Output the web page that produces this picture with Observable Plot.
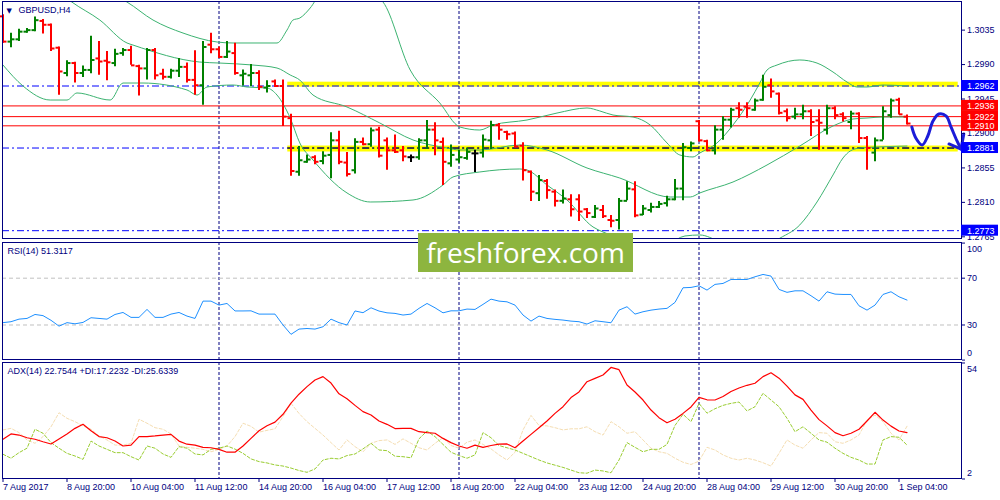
<!DOCTYPE html>
<html><head><meta charset="utf-8">
<script src="https://cdn.jsdelivr.net/npm/d3@7"></script>
<script src="https://cdn.jsdelivr.net/npm/@observablehq/plot@0.6"></script>
<style>
html,body{margin:0;padding:0;background:#fff;width:1000px;height:500px;overflow:hidden}
#wrap{position:relative;width:1000px;height:500px}
#logo{position:absolute;left:418px;top:233px;width:215px;height:39px;background:#8db53f;color:#fff;font-family:"Open Sans",sans-serif;font-size:28px;line-height:38px;text-align:center;white-space:nowrap}
</style></head><body><div id="wrap"></div>
<script>
// ---------- data ----------
const open = [1.3053,1.3020,1.3023,1.3033,1.3035,1.3047,1.3042,1.3012,1.2979,1.2992,
1.2979,1.2983,1.2998,1.2995,1.2992,1.3005,1.3009,1.2988,1.2985,1.3009,
1.2978,1.2974,1.2982,1.2987,1.2970,1.2963,1.3016,1.3010,1.3000,1.3005,
1.2976,1.2976,1.2979,1.2960,1.2968,1.2962,1.2920,1.2850,1.2863,1.2869,
1.2864,1.2872,1.2891,1.2862,1.2852,1.2889,1.2886,1.2905,1.2891,1.2878,
1.2878,1.2869,1.2869,1.2891,1.2905,1.2889,1.2861,1.2866,1.2868,1.2874,
1.2875,1.2891,1.2911,1.2902,1.2900,1.2884,1.2850,1.2822,1.2838,1.2824,
1.2812,1.2814,1.2814,1.2801,1.2791,1.2800,1.2787,1.2787,1.2812,1.2827,
1.2794,1.2800,1.2804,1.2809,1.2814,1.2828,1.2881,1.2916,1.2890,1.2878,
1.2905,1.2918,1.2933,1.2935,1.2931,1.2944,1.2963,1.2952,1.2929,1.2922,
1.2925,1.2929,1.2917,1.2905,1.2933,1.2925,1.2915,1.2926,1.2894,1.2875,
1.2891,1.2924,1.2944,1.2922];
const high = [1.3055,1.3031,1.3036,1.3037,1.3052,1.3049,1.3043,1.3013,1.2995,1.2993,
1.2988,1.3027,1.3020,1.3007,1.3010,1.3011,1.3014,1.2989,1.3011,1.3011,
1.2984,1.2984,1.2998,1.2992,1.3008,1.3020,1.3031,1.3013,1.3020,1.3018,
1.2983,1.2990,1.2982,1.2969,1.2970,1.2970,1.2925,1.2883,1.2872,1.2871,
1.2876,1.2901,1.2903,1.2875,1.2893,1.2894,1.2907,1.2908,1.2894,1.2898,
1.2883,1.2872,1.2893,1.2917,1.2914,1.2894,1.2885,1.2878,1.2881,1.2878,
1.2898,1.2916,1.2913,1.2903,1.2902,1.2888,1.2851,1.2845,1.2840,1.2826,
1.2826,1.2820,1.2820,1.2802,1.2806,1.2806,1.2793,1.2815,1.2837,1.2837,
1.2806,1.2809,1.2811,1.2818,1.2840,1.2887,1.2889,1.2917,1.2891,1.2910,
1.2922,1.2933,1.2940,1.2940,1.2945,1.2976,1.2971,1.2953,1.2932,1.2933,
1.2937,1.2931,1.2931,1.2937,1.2935,1.2927,1.2929,1.2927,1.2896,1.2894,
1.2935,1.2945,1.2946,1.2924];
const low = [1.3018,1.3012,1.3020,1.3031,1.3033,1.3030,1.3007,1.2950,1.2974,1.2966,
1.2973,1.2978,1.2976,1.2969,1.2987,1.3001,1.2989,1.2949,1.2970,1.2970,
1.2970,1.2971,1.2973,1.2966,1.2950,1.2937,1.3004,1.2998,1.2998,1.2976,
1.2962,1.2961,1.2956,1.2953,1.2960,1.2909,1.2844,1.2844,1.2861,1.2859,
1.2859,1.2841,1.2859,1.2843,1.2847,1.2884,1.2882,1.2868,1.2852,1.2874,
1.2863,1.2862,1.2865,1.2879,1.2871,1.2832,1.2856,1.2861,1.2865,1.2849,
1.2868,1.2879,1.2891,1.2891,1.2881,1.2838,1.2811,1.2811,1.2814,1.2804,
1.2808,1.2791,1.2785,1.2789,1.2789,1.2789,1.2777,1.2774,1.2812,1.2790,
1.2793,1.2796,1.2802,1.2804,1.2812,1.2812,1.2876,1.2889,1.2876,1.2872,
1.2891,1.2907,1.2920,1.2920,1.2929,1.2942,1.2946,1.2924,1.2915,1.2918,
1.2918,1.2896,1.2878,1.2898,1.2918,1.2915,1.2905,1.2887,1.2852,1.2863,
1.2891,1.2920,1.2924,1.2911];
const close = [1.3020,1.3023,1.3033,1.3035,1.3048,1.3042,1.3011,1.2981,1.2992,1.2979,
1.2983,1.2996,1.2994,1.2993,1.3004,1.3009,1.2989,1.2985,1.3009,1.2976,
1.2974,1.2982,1.2987,1.2970,1.2963,1.3013,1.3010,1.3000,1.3007,1.2979,
1.2978,1.2979,1.2961,1.2962,1.2962,1.2922,1.2851,1.2865,1.2866,1.2863,
1.2871,1.2891,1.2863,1.2847,1.2889,1.2886,1.2904,1.2871,1.2878,1.2876,
1.2870,1.2869,1.2891,1.2905,1.2891,1.2863,1.2872,1.2869,1.2876,1.2874,
1.2892,1.2911,1.2905,1.2899,1.2883,1.2852,1.2824,1.2839,1.2826,1.2812,
1.2815,1.2801,1.2798,1.2796,1.2802,1.2792,1.2786,1.2812,1.2828,1.2793,
1.2802,1.2804,1.2808,1.2814,1.2828,1.2882,1.2887,1.2891,1.2878,1.2905,
1.2918,1.2931,1.2931,1.2933,1.2943,1.2961,1.2955,1.2927,1.2920,1.2925,
1.2929,1.2915,1.2914,1.2933,1.2924,1.2920,1.2926,1.2894,1.2881,1.2891,
1.2929,1.2943,1.2925,1.2913];

// Bollinger bands (20) read at sampled bar positions: [bar, price]
const bbUpper = [[12,1.3090],[15.5,1.30717],[18.75,1.30482],[22.5,1.30312],[26.75,1.30195],[28.75,1.30182],[34.25,1.30182],[35.5,1.30351],[36.25,1.30482],[37.1,1.30508],[38.4,1.30639],[39.6,1.30808],[43.4,1.3094],[46.5,1.30808],[47.5,1.30717],[50.9,1.29829],[54.6,1.29398],[57.1,1.29085],[59.6,1.29045],[61.25,1.29111],[65.5,1.29176],[69.25,1.29267],[73,1.29333],[74.6,1.29294],[76.25,1.29241],[78.75,1.29215],[80.9,1.29111],[83,1.28876],[84.6,1.28719],[86.25,1.28693],[87.1,1.28745],[89.25,1.28876],[91.25,1.29111],[93.4,1.29437],[94.6,1.29659],[95.5,1.29829],[96.75,1.29894],[99.6,1.2996],[101.75,1.2992],[103.75,1.29803],[105.5,1.29672],[106.75,1.29607],[108,1.29607],[110,1.29633],[113,1.2962]];
const bbMiddle = [[5.9,1.3094],[8.6,1.30717],[12.1,1.30482],[15.5,1.30182],[16.25,1.30155],[24.6,1.29933],[27.1,1.2992],[31.25,1.29894],[34.25,1.29855],[35.9,1.29764],[37.1,1.29698],[38.75,1.29502],[43,1.29346],[47.1,1.29137],[51.25,1.28915],[55.5,1.2881],[57.1,1.28784],[59.6,1.28784],[64.6,1.28849],[68,1.28784],[73,1.28549],[77.1,1.28418],[83.4,1.2817],[85.9,1.2817],[87.1,1.28223],[91.25,1.28366],[95.5,1.28588],[99.6,1.28836],[103.75,1.29098],[106.25,1.29189],[108,1.29202],[110,1.29215],[113,1.29215]];
const bbLower = [[0,1.29894],[2.5,1.2962],[5.9,1.29437],[8,1.29437],[9.25,1.29529],[13.4,1.29437],[15,1.29659],[17.5,1.29659],[23,1.29568],[24.25,1.29502],[25.5,1.29607],[28.75,1.29633],[30.5,1.29607],[33,1.29594],[34.25,1.29502],[35.9,1.29202],[37.1,1.28876],[38.75,1.28654],[43,1.28223],[45.9,1.28105],[51.25,1.28131],[55,1.28327],[56.25,1.28432],[59.6,1.28497],[64.6,1.28536],[65.5,1.28523],[68,1.28327],[70.5,1.28131],[73.75,1.27779],[75,1.27713],[77.1,1.27635],[80.25,1.27504],[83.1,1.27556],[85.25,1.27661],[87.1,1.27674],[89.6,1.27583],[93.4,1.27374],[96.75,1.27609],[99.6,1.27805],[101.75,1.28105],[103.75,1.28458],[105,1.2868],[105.9,1.28771],[107.1,1.2881],[109.25,1.28823],[113,1.28836]];

const rsi = [32,32.8,35,35.6,39,38,34,29,32,31,
32.2,36.2,35.6,35,39,40.7,36.5,36.5,43.3,36.5,
36.5,39.3,40.7,37.6,35.6,50.4,50.4,47,48.4,42,
42,42.1,39.3,39.3,39.3,30,22,26.5,27,26.5,
28.5,35,32,30,42,40.5,44.7,41.9,40.4,39.9,
38.5,39.3,44.2,48.4,44.7,40.4,42.1,42.1,43.6,43.3,
47.6,52.1,50.4,49.8,47,38.5,33.3,37.6,35.6,34.8,
34.2,33.3,32.8,30.8,33.6,32.8,31.9,42.7,45.6,39.3,
41.3,42.7,43.6,44.2,49.3,61.8,62.1,63.5,59.8,64.7,
65.5,68.9,68.9,68.9,71.2,73.2,71.8,60.4,57.9,59.2,
59.2,55,50.4,58.4,56.4,56.1,56.1,46.4,42.7,47,
56.1,58.4,54.1,51.3117];

const adx = [19.8,22.2,21.7,20.5,19.8,18.7,17.7,19.9,22.2,24.7,
26.5,23.6,21,20.5,19,16.8,17.2,21,21,21.3,
21.7,22,19,17.6,17.2,16.2,16,15.3,14,14,
16.8,20.2,23.6,25.9,27.5,31,36,40,43.4,46.4,
47.9,45,40.2,38,35,32.2,30.7,28,26.5,24.6,
24.7,24.7,23.2,22.8,22.5,20.2,18.3,16.8,15.8,17.2,
16.2,17,17.6,17.7,16,19,22,25,28,31.4,
34.4,38.5,41,45.6,47.1,48.6,52,51,44.1,41,
37.4,32.9,29.5,27.2,28.8,31.4,34.3,38.6,37.5,37.4,
39,41.2,42.8,44,44.9,47.9,49.6,47.2,43.6,39.7,
37.7,32.9,28.6,25.8,22.8,21.4,22.5,24.3,28,31.9,
28.4,25.7,23.5,22.7544];
const plusDI = [13.1,11.3,13.8,15.8,24.3,22.5,18.3,15.8,13.5,12.3,
10.8,19,16.8,15.3,13.8,13.8,12,10.5,16.8,15.8,
13.2,11.7,16.5,15.8,13.2,12.8,15.3,15.8,16.8,15.4,
13.5,11,9.8,9.2,8.3,7.8,6.9,5.8,5,6.5,
10.5,11.3,11,12.5,13.2,15.5,18,15,14.7,12.2,
12,11.5,20,23.5,21,17.5,14,12.5,11.3,12.8,
22.8,20.5,17,16,15,13.5,12,10.5,9.2,8.2,
7.2,6,4.8,4.6,6,5.6,4.8,10.5,18.3,16.2,
14.2,15.3,15.3,17.5,26,31,27.7,35.9,31.5,33.5,
35,35.9,36.5,32.5,34.4,40.4,37.4,34.4,29.2,23.2,
25.4,22.5,19.5,18.5,15.8,13.5,11.7,10.5,8.7,8.7,
19.5,21,20.7,17.2232];
const minusDI = [24,24.7,22.8,19.5,18,21,25.4,31.7,29.2,27.7,
25.8,24.3,21.3,19.5,17.2,17.2,18,28.8,27,25,
24.3,22.2,16.8,16.2,15.8,15.3,14.2,15.3,16.8,21,
27,25.6,23,23.8,24.5,30,35.9,31.4,27.7,24.7,
21.7,18.3,15,19.5,16.5,14.2,18,19.2,19.5,17.5,
20,18,16,15,18,20.5,17,15.8,18.5,19.5,
17.5,15.5,12.8,10.5,14,24,30.5,26,25.8,25,
24,24.5,24.5,25.4,23.2,21.7,27.7,25.4,22.5,23.2,
19.5,15.8,14.2,13.5,11.3,9.5,8.5,10,16.2,15,
12.8,11.3,10.5,11.3,10.5,9.3,7.8,13.5,19.5,17.2,
15.8,19.5,22.8,22.5,18.7,18,19.5,21.7,28.4,30.7,
27.7,22.5,19.5,25.6339];

const tickBars = [0,8,16,24,32,40,48,56,64,72,80,88,96,104,112];
const tickLabels = ["7 Aug 2017","8 Aug 20:00","10 Aug 04:00","11 Aug 12:00","14 Aug 20:00","16 Aug 04:00","17 Aug 12:00","18 Aug 20:00","22 Aug 04:00","23 Aug 12:00","24 Aug 20:00","28 Aug 04:00","29 Aug 12:00","30 Aug 20:00","1 Sep 04:00"];
const separators = [27,57,87];
const priceTicks = [1.3035,1.2990,1.2945,1.2900,1.2855,1.2810,1.2765];
const rsiTicks = [100,70,30,0];
const rsiLevels = [70,30];
const adxTicks = [54,2];
const blueLevels = [1.2962,1.2881,1.2773];
const redLevels = [1.2936,1.2922,1.2910];
const zones = [{from:35.6,to:119.4,hi:1.2967,lo:1.29605},{from:35.6,to:119.4,hi:1.28836,lo:1.28758}];
const zoneLines = [{price:1.2881,from:35.6,to:119.4}];
const sketch = [[113.6,1.29085],[114.1,1.28941],[114.9,1.28849],[115.6,1.28967],[116.25,1.29163],[117,1.29254],[117.9,1.29228],[118.5,1.29085],[119.25,1.28902],[119.75,1.28797]];
const arrowHead = [[118.25,1.28863],[119.75,1.28797],[120.1,1.28993]];
const title = "GBPUSD,H4";
const rsiTitle = "RSI(14) 51.3117";
const adxTitle = "ADX(14) 22.7544 +DI:17.2232 -DI:25.6339";

// ---------- drawing ----------
const NAVY = "#000080", GREEN = "#008000", RED = "#ff0000", BLUE = "#0000ff", BB = "#3cb371";
const XD = [-0.0625, 119.8125];
const STYLE = {fontFamily: "'Liberation Sans', Arial, sans-serif", fontSize: "9px", color: NAVY, background: "transparent", overflow: "visible"};
const bars = open.map((o, i) => ({i, open: o, high: high[i], low: low[i], close: close[i]}));
const up = d => d.close > d.open, down = d => d.close < d.open, doji = d => d.close === d.open;
const boxes = [...blueLevels.map(p => ({price: p, color: BLUE})), ...redLevels.map(p => ({price: p, color: RED}))];

function barMarks(filter, color) {
  return [
    Plot.ruleX(bars, {filter, x: "i", y1: "low", y2: "high", stroke: color, strokeWidth: 2}),
    Plot.link(bars, {filter, x1: d => d.i - 0.4375, x2: "i", y1: "open", y2: "open", stroke: color, strokeWidth: 2}),
    Plot.link(bars, {filter, x1: "i", x2: d => d.i + 0.4375, y1: "close", y2: "close", stroke: color, strokeWidth: 2})
  ];
}
const bbLine = arr => Plot.line(arr, {x: d => d[0], y: d => d[1], stroke: BB, strokeWidth: 1, curve: "monotone-x", clip: true});

const main = Plot.plot({
  width: 1000, height: 240, marginLeft: 2, marginRight: 39, marginTop: 1, marginBottom: 2,
  x: {type: "linear", domain: XD, axis: null},
  y: {type: "linear", domain: [1.27628, 1.30724], axis: null},
  style: STYLE,
  marks: [
    Plot.rect(zones, {x1: "from", x2: "to", y1: "lo", y2: "hi", fill: "#ffff00", ariaLabel: "zones"}),
    Plot.ruleX(separators, {x: d => d, stroke: NAVY, strokeDasharray: "3,2"}),
    Plot.ruleY(redLevels, {y: d => d, stroke: RED}),
    Plot.ruleY(blueLevels, {y: d => d, stroke: BLUE, strokeDasharray: "7,3,2,3"}),
    Plot.ruleY(zoneLines, {y: "price", x1: "from", x2: "to", stroke: "#000", strokeDasharray: "7,3,2,3"}),
    bbLine(bbUpper), bbLine(bbMiddle), bbLine(bbLower),
    ...barMarks(up, GREEN), ...barMarks(down, RED), ...barMarks(doji, "#000"),
    Plot.line(sketch, {x: d => d[0], y: d => d[1], stroke: "#1c1cd8", strokeWidth: 3, curve: "catmull-rom", strokeLinecap: "round"}),
    Plot.line(arrowHead, {x: d => d[0], y: d => d[1], stroke: "#1c1cd8", strokeWidth: 3, strokeLinecap: "round", strokeLinejoin: "round"}),
    Plot.axisY({anchor: "right", ticks: priceTicks, tickFormat: d3.format(".4f"), tickSize: 3, tickPadding: 2.5, textAnchor: "start"}),
    Plot.frame({stroke: NAVY}),
    Plot.text(["\u25BC"], {text: d => d, frameAnchor: "top-left", dx: 4, dy: 9.5, lineAnchor: "middle", textAnchor: "start", fontSize: 7, fontFamily: "DejaVu Sans", fill: NAVY}),
    Plot.text([title], {text: d => d, frameAnchor: "top-left", dx: 16, dy: 9, lineAnchor: "middle", textAnchor: "start", fill: NAVY}),
    Plot.rect(boxes, {x1: XD[1], x2: XD[1] + 4.625, y1: d => d.price - 0.00072, y2: d => d.price + 0.00072, fill: d => d.color}),
    Plot.text(boxes, {y: "price", text: d => d.price.toFixed(4), frameAnchor: "right", textAnchor: "start", dx: 5.5, fill: "#fff"})
  ]
});

const rsiChart = Plot.plot({
  width: 1000, height: 121, marginLeft: 2, marginRight: 39, marginTop: 2, marginBottom: 2,
  x: {type: "linear", domain: XD, axis: null},
  y: {type: "linear", domain: [0.5, 100.5], axis: null},
  style: STYLE,
  marks: [
    Plot.ruleX(separators, {x: d => d, stroke: NAVY, strokeDasharray: "3,2"}),
    Plot.ruleY(rsiLevels, {y: d => d, stroke: "#c0c0c0", strokeDasharray: "4,3"}),
    Plot.line(rsi, {x: (d, i) => i, y: d => d, stroke: "#1e90ff", strokeWidth: 1}),
    Plot.axisY({anchor: "right", ticks: rsiTicks, tickSize: 3, tickFormat: () => ""}),
    Plot.axisY({anchor: "right", ticks: [70, 30], tickSize: 0, tickPadding: 5.5, textAnchor: "start"}),
    Plot.axisY({anchor: "right", ticks: [100], tickSize: 0, tickPadding: 5.5, textAnchor: "start", dy: 6}),
    Plot.axisY({anchor: "right", ticks: [0], tickSize: 0, tickPadding: 5.5, textAnchor: "start", dy: -7}),
    Plot.frame({stroke: NAVY}),
    Plot.text([rsiTitle], {text: d => d, frameAnchor: "top-left", dx: 5, dy: 9, lineAnchor: "middle", textAnchor: "start", fill: NAVY})
  ]
});

const adxChart = Plot.plot({
  width: 1000, height: 139, marginLeft: 2, marginRight: 39, marginTop: 1, marginBottom: 22,
  x: {type: "linear", domain: XD, axis: null},
  y: {type: "linear", domain: [2.22, 54.22], axis: null},
  style: STYLE,
  marks: [
    Plot.ruleX(separators, {x: d => d, stroke: NAVY, strokeDasharray: "3,2"}),
    Plot.line(minusDI, {x: (d, i) => i, y: d => d, stroke: "#f5deb3", strokeWidth: 1, strokeDasharray: "3,2"}),
    Plot.line(plusDI, {x: (d, i) => i, y: d => d, stroke: "#9acd32", strokeWidth: 1, strokeDasharray: "3,2"}),
    Plot.line(adx, {x: (d, i) => i, y: d => d, stroke: RED, strokeWidth: 1.2}),
    Plot.axisY({anchor: "right", ticks: adxTicks, tickSize: 3, tickFormat: () => ""}),
    Plot.axisY({anchor: "right", ticks: [54], tickSize: 0, tickPadding: 5.5, textAnchor: "start", dy: 6}),
    Plot.axisY({anchor: "right", ticks: [2], tickSize: 0, tickPadding: 5.5, textAnchor: "start", dy: -6}),
    Plot.axisX({anchor: "bottom", ticks: tickBars, tickFormat: d => tickLabels[tickBars.indexOf(d)], tickSize: 4, tickPadding: 1.5, textAnchor: "start"}),
    Plot.frame({stroke: NAVY}),
    Plot.text([adxTitle], {text: d => d, frameAnchor: "top-left", dx: 5, dy: 9, lineAnchor: "middle", textAnchor: "start", fill: NAVY})
  ]
});

const wrap = document.getElementById("wrap");
[[main, 0], [rsiChart, 240], [adxChart, 361]].forEach(([svg, top]) => {
  svg.style.position = "absolute";
  svg.style.left = "0px";
  svg.style.top = top + "px";
  wrap.appendChild(svg);
});

// soft shadow under the highlighted zones
const s = d3.select(main);
s.insert("defs", ":first-child").html('<filter id="zshadow" x="-5%" y="-150%" width="110%" height="450%"><feDropShadow dx="1" dy="3" stdDeviation="1.6" flood-color="#000" flood-opacity="0.45"/></filter>');
s.select('g[aria-label="zones"]').attr("filter", "url(#zshadow)");

const logo = document.createElement("div");
logo.id = "logo";
logo.textContent = "freshforex.com";
wrap.appendChild(logo);
</script></body></html>
